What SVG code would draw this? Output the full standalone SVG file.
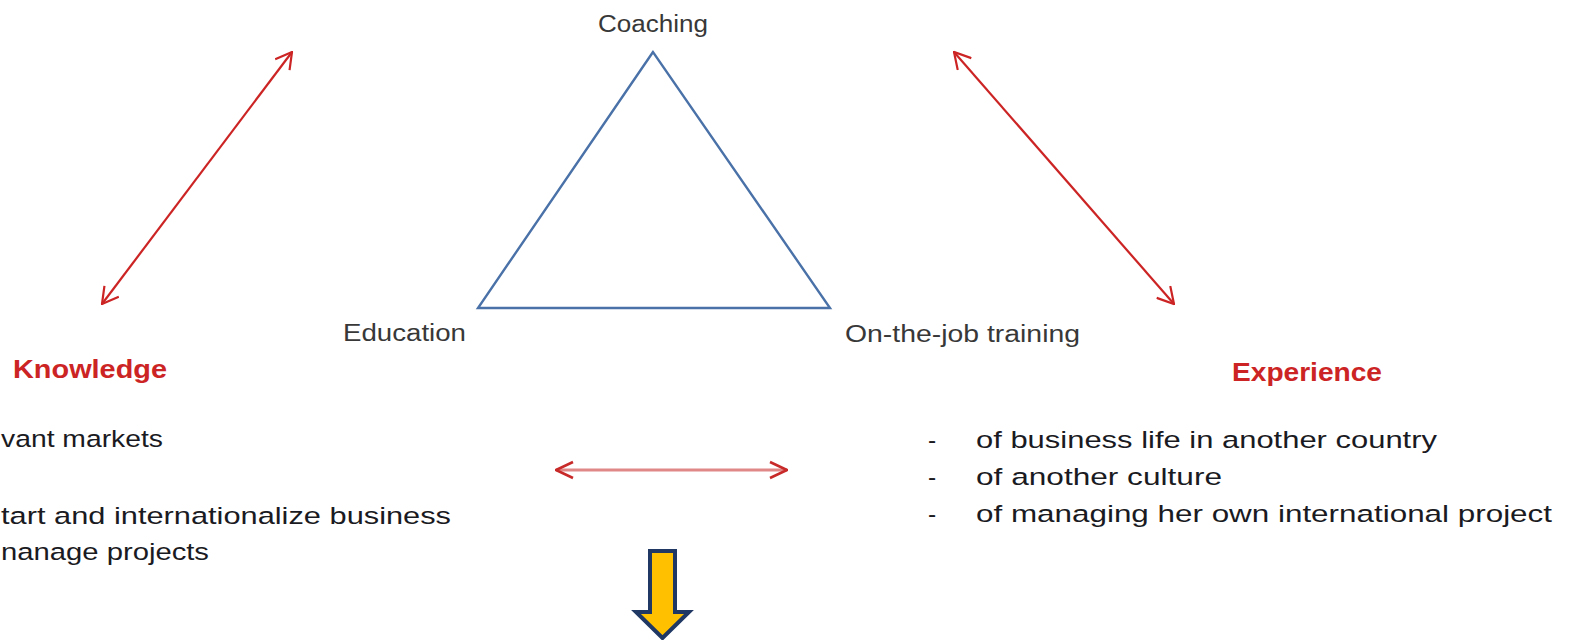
<svg xmlns="http://www.w3.org/2000/svg" width="1571" height="640" viewBox="0 0 1571 640">
  <style>
    .lbl { font-family: "Liberation Sans", Arial, sans-serif; font-size: 23.5px; fill: #383838; }
    .head { font-family: "Liberation Sans", Arial, sans-serif; font-size: 26px; font-weight: bold; fill: #cc2424; }
    .body { font-family: "Liberation Sans", Arial, sans-serif; font-size: 24.5px; fill: #1a1a22; }
    .red { stroke: #cc2424; stroke-width: 2.2; fill: none; }
    .tri { stroke: #4a72a8; stroke-width: 2.4; fill: none; stroke-linejoin: miter; }
  </style>
  <defs>
    <marker id="chev" viewBox="0 0 18 20" refX="17" refY="10" markerWidth="18" markerHeight="20" markerUnits="userSpaceOnUse" orient="auto-start-reverse">
      <path d="M1,1 L17,10 L1,19" fill="none" stroke="#cc2424" stroke-width="2.2"/>
    </marker>
    <marker id="chev2" viewBox="0 0 20 20" refX="19" refY="10" markerWidth="20" markerHeight="20" markerUnits="userSpaceOnUse" orient="auto-start-reverse">
      <path d="M2,2 L19,10 L2,18" fill="none" stroke="#c82a2a" stroke-width="2.6"/>
    </marker>
  </defs>
  <rect width="1571" height="640" fill="#ffffff"/>

  <g id="triangle">
    <polygon class="tri" points="653,52 478,308 830,308"/>
  </g>

  <g id="coaching">
    <text class="lbl" x="598" y="32" textLength="110" lengthAdjust="spacingAndGlyphs">Coaching</text>
  </g>
  <g id="education">
    <text class="lbl" x="343" y="341" textLength="123" lengthAdjust="spacingAndGlyphs">Education</text>
  </g>
  <g id="on-the-job-training">
    <text class="lbl" x="845" y="342" textLength="235" lengthAdjust="spacingAndGlyphs">On-the-job training</text>
  </g>

  <g id="knowledge">
    <text class="head" x="13" y="378" textLength="154" lengthAdjust="spacingAndGlyphs">Knowledge</text>
    <text class="body" x="1" y="447" textLength="162" lengthAdjust="spacingAndGlyphs">vant markets</text>
    <text class="body" x="1" y="524" textLength="450" lengthAdjust="spacingAndGlyphs">tart and internationalize business</text>
    <text class="body" x="1" y="560" textLength="208" lengthAdjust="spacingAndGlyphs">nanage projects</text>
  </g>

  <g id="experience">
    <text class="head" x="1232" y="381" textLength="150" lengthAdjust="spacingAndGlyphs">Experience</text>
    <text class="body" x="928" y="448">-</text>
    <text class="body" x="976" y="448" textLength="461" lengthAdjust="spacingAndGlyphs">of business life in another country</text>
    <text class="body" x="928" y="485">-</text>
    <text class="body" x="976" y="485" textLength="246" lengthAdjust="spacingAndGlyphs">of another culture</text>
    <text class="body" x="928" y="522">-</text>
    <text class="body" x="976" y="522" textLength="576" lengthAdjust="spacingAndGlyphs">of managing her own international project</text>
  </g>

  <g id="result-arrow">
    <polygon points="650,551 675,551 675,612 689,612 662.5,638 636,612 650,612" fill="#ffc000" stroke="#1f3864" stroke-width="4" stroke-linejoin="miter"/>
  </g>

  <g id="connectors">
    <line class="red" x1="102" y1="304" x2="292" y2="52" marker-start="url(#chev)" marker-end="url(#chev)"/>
    <line class="red" x1="954" y1="52" x2="1174" y2="304" marker-start="url(#chev)" marker-end="url(#chev)"/>
    <line x1="556" y1="470" x2="787" y2="470" stroke="#e08888" stroke-width="3.2" marker-start="url(#chev2)" marker-end="url(#chev2)"/>
  </g>
</svg>
